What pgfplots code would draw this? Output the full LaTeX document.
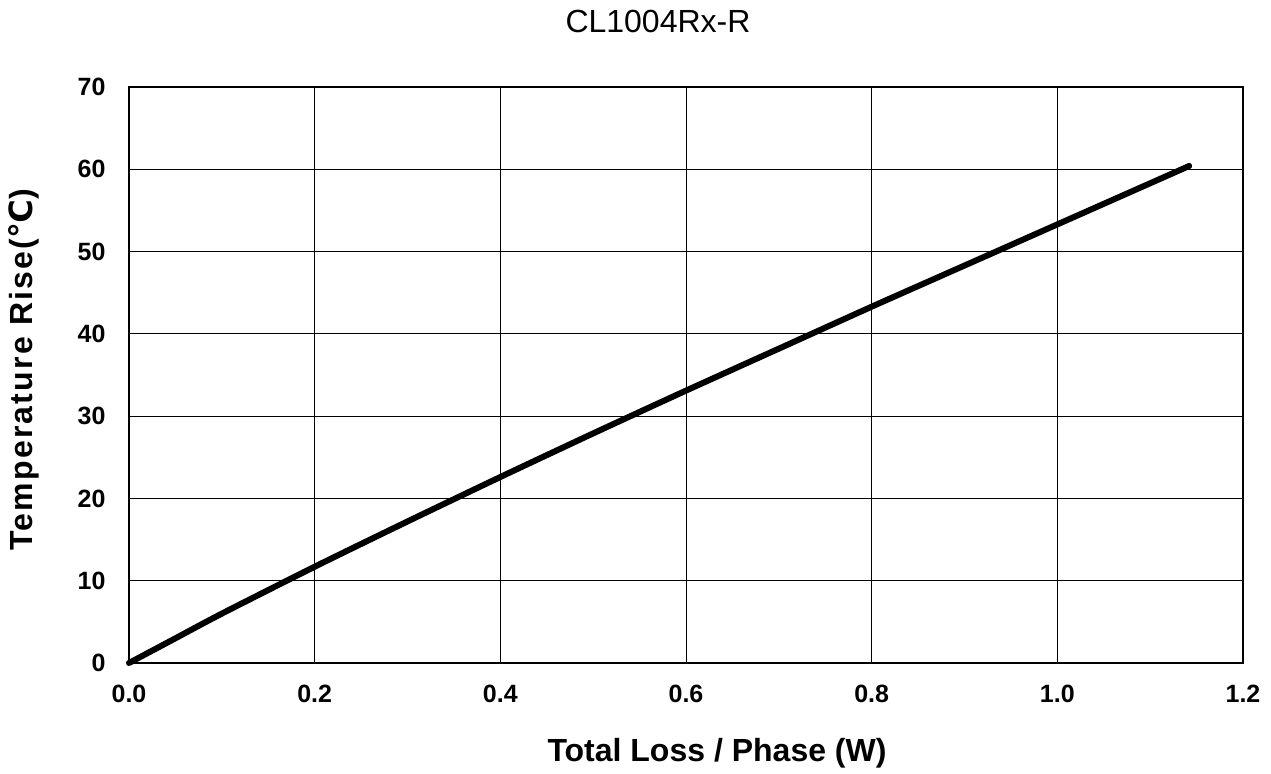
\documentclass[border=0pt]{standalone}
\usepackage{fontspec}
\setmainfont{Liberation Sans}
\newfontfamily\dejavu{DejaVu Sans}
\usepackage{pgfplots}
\pgfplotsset{compat=1.18}
\begin{document}
\begin{tikzpicture}[x=0.5pt,y=0.5pt]
\path[use as bounding box] (-129,-111) rectangle (1142,663);
\begin{axis}[
  at={(0,0)}, anchor=south west,
  scale only axis, width=557pt, height=288pt,
  xmin=0, xmax=1.2, ymin=0, ymax=70,
  xtick={0,0.2,...,1.2}, ytick={0,10,...,70},
  grid=major, major grid style={black, line width=0.5pt},
  axis line style={black, line width=0.8pt},
  major tick length=0pt,
  tick label style={font=\fontsize{12.5}{15}\selectfont\bfseries},
  /pgf/number format/assume math mode=true,
  xticklabel style={/pgf/number format/fixed, /pgf/number format/fixed zerofill, /pgf/number format/precision=1, yshift=-7.5pt},
  yticklabel style={xshift=-8.2pt},
  clip=false,
]
\addplot[black, line width=3pt, line cap=round, line join=round, smooth, tension=0.4] coordinates {
(0,0) (0.05,3.0) (0.1,6.0) (0.2,11.7) (0.3,17.2) (0.4,22.6) (0.5,27.9) (0.6,33.1) (0.7,38.2) (0.8,43.3) (0.9,48.3) (1.0,53.3) (1.1,58.3) (1.142,60.4)
};
\end{axis}
\node[font=\fontsize{16}{19}\selectfont, anchor=base] at (529,630) {CL1004Rx-R};
\node[font=\fontsize{16}{19}\selectfont\bfseries, anchor=base] at (588,-99) {Total Loss / Phase (W)};
\node[font=\fontsize{16}{19}\selectfont\bfseries\addfontfeature{LetterSpace=7}, rotate=90, anchor=base] at (-96,293) {Temperature Rise({\dejavu\bfseries ℃})};
\end{tikzpicture}
\end{document}
